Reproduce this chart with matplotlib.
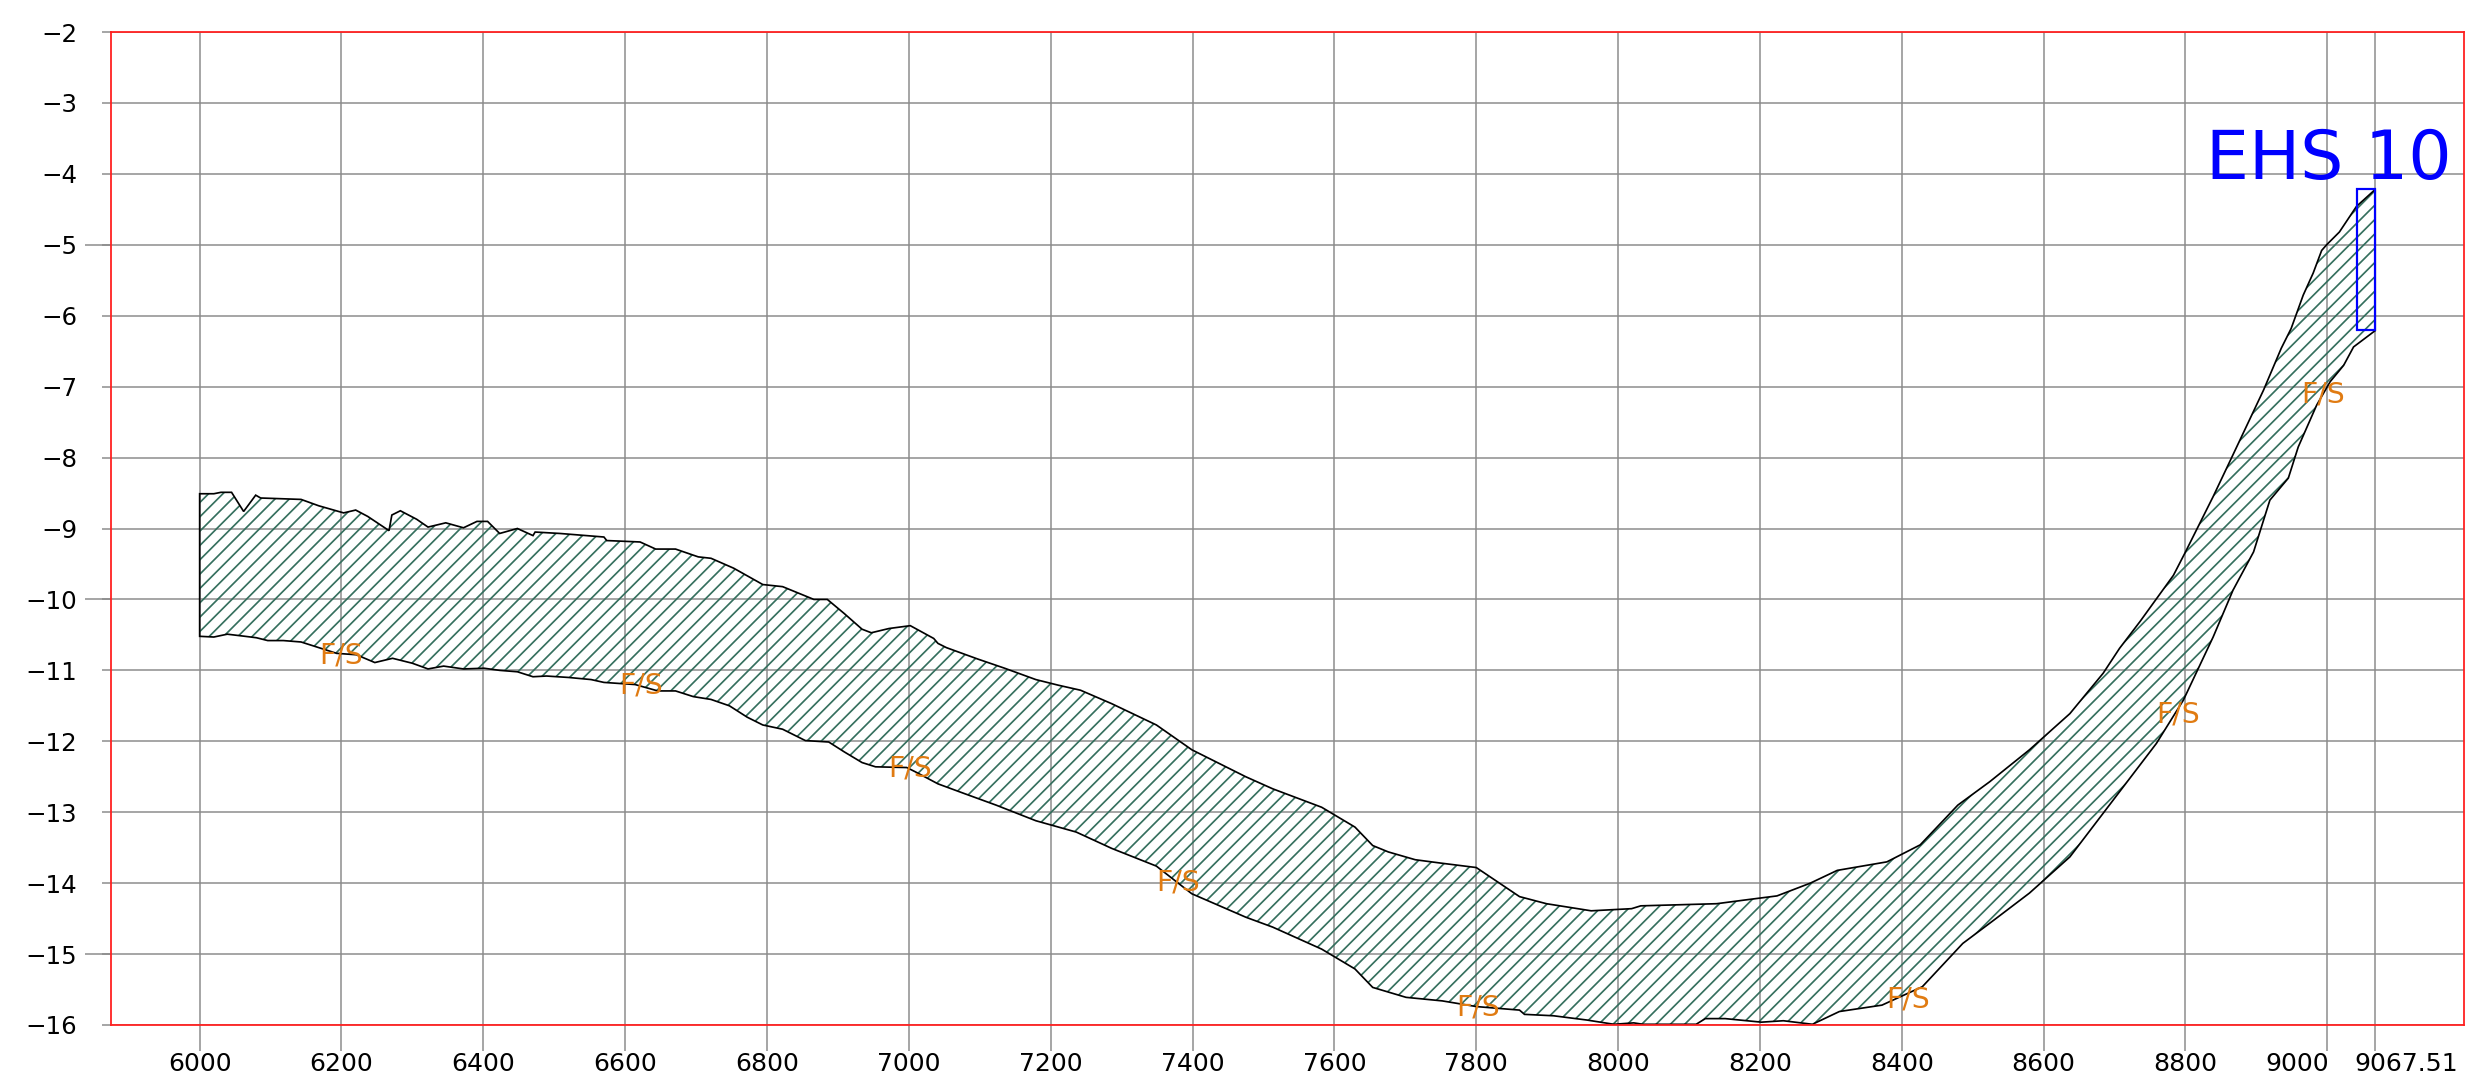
import matplotlib
matplotlib.use("Agg")
import matplotlib.pyplot as plt
from matplotlib.patches import Polygon, Rectangle
from matplotlib.transforms import offset_copy
import numpy as np

# ---------------- data ----------------
upper_x = [6000, 6020, 6030, 6045, 6062, 6079, 6086, 6143, 6168, 6203, 6220, 6237, 6267, 6271,
           6283, 6306, 6322, 6347, 6372, 6391, 6406, 6423, 6448, 6470, 6473, 6508, 6570, 6574,
           6621, 6643, 6671, 6703, 6721, 6753, 6794, 6822, 6866, 6885, 6909, 6934, 6947, 6972,
           7002, 7035, 7041, 7053, 7097, 7135, 7179, 7211, 7242, 7286, 7349, 7399, 7475, 7513,
           7582, 7629, 7654, 7676, 7714, 7752, 7800, 7861, 7899, 7962, 8019, 8032, 8139, 8177,
           8224, 8271, 8309, 8379, 8426, 8479, 8524, 8580, 8637, 8684, 8707, 8736, 8783, 8799,
           8839, 8867, 8910, 8935, 8949, 8966, 8980, 8992, 8999, 9017, 9041, 9067.51]
upper_y = [-8.51, -8.51, -8.49, -8.49, -8.76, -8.53, -8.57, -8.59, -8.68, -8.78, -8.74, -8.83,
           -9.03, -8.81, -8.75, -8.87, -8.98, -8.92, -8.99, -8.90, -8.90, -9.07, -9.00, -9.10,
           -9.05, -9.07, -9.12, -9.17, -9.19, -9.29, -9.29, -9.40, -9.42, -9.56, -9.79, -9.82,
           -10.00, -10.00, -10.20, -10.42, -10.47, -10.41, -10.37, -10.55, -10.62, -10.68,
           -10.84, -10.97, -11.13, -11.21, -11.28, -11.47, -11.77, -12.12, -12.50, -12.67,
           -12.93, -13.21, -13.47, -13.56, -13.67, -13.72, -13.78, -14.19, -14.29, -14.39,
           -14.36, -14.32, -14.29, -14.24, -14.18, -14.00, -13.82, -13.70, -13.46, -12.90,
           -12.57, -12.12, -11.61, -11.04, -10.69, -10.31, -9.66, -9.35, -8.55, -7.96, -7.05,
           -6.46, -6.18, -5.71, -5.40, -5.08, -5.00, -4.82, -4.46, -4.22]

lower_x = [6000, 6020, 6039, 6064, 6080, 6096, 6118, 6143, 6165, 6193, 6221, 6247, 6272, 6300,
           6322, 6344, 6372, 6401, 6423, 6448, 6470, 6489, 6520, 6552, 6570, 6614, 6646, 6671,
           6696, 6721, 6747, 6772, 6794, 6822, 6854, 6887, 6909, 6934, 6953, 6997, 7009, 7041,
           7079, 7123, 7179, 7236, 7286, 7349, 7399, 7475, 7513, 7582, 7629, 7654, 7701, 7752,
           7800, 7861, 7868, 7909, 7956, 7994, 8022, 8035, 8110, 8123, 8151, 8202, 8233, 8274,
           8312, 8372, 8429, 8486, 8530, 8580, 8637, 8698, 8759, 8797, 8839, 8867, 8896, 8919,
           8945, 8959, 8985, 9004, 9023, 9037, 9067.51]
lower_y = [-10.52, -10.53, -10.49, -10.52, -10.54, -10.58, -10.58, -10.60, -10.67, -10.76,
           -10.78, -10.89, -10.83, -10.90, -10.98, -10.94, -10.98, -10.97, -11.00, -11.02,
           -11.09, -11.08, -11.10, -11.13, -11.17, -11.20, -11.29, -11.29, -11.37, -11.41,
           -11.50, -11.66, -11.77, -11.83, -11.99, -12.01, -12.15, -12.30, -12.36, -12.37,
           -12.43, -12.60, -12.74, -12.90, -13.12, -13.28, -13.51, -13.76, -14.15, -14.48,
           -14.62, -14.93, -15.21, -15.47, -15.61, -15.66, -15.74, -15.79, -15.85, -15.87,
           -15.93, -15.99, -15.97, -15.99, -15.99, -15.91, -15.91, -15.96, -15.94, -15.99,
           -15.81, -15.72, -15.46, -14.85, -14.52, -14.14, -13.63, -12.83, -12.03, -11.42,
           -10.53, -9.87, -9.33, -8.60, -8.29, -7.85, -7.26, -6.93, -6.70, -6.44, -6.21]

fs_x = [6200, 6623, 7002, 7379, 7803, 8409, 8789, 8994]
fs_y = [-10.91, -11.32, -12.49, -14.11, -15.87, -15.76, -11.74, -7.22]
fs_label = "F/S"

ehs_label = "EHS 10"
ehs_label_pos = (8829, -4.07)
ehs_box_x = [9042, 9067.51]
ehs_box_y = [-6.20, -4.21]

xticks = [6000, 6200, 6400, 6600, 6800, 7000, 7200, 7400, 7600, 7800, 8000, 8200, 8400,
          8600, 8800, 9000, 9067.51]
xtick_labels = ["6000", "6200", "6400", "6600", "6800", "7000", "7200", "7400", "7600",
                "7800", "8000", "8200", "8400", "8600", "8800", "9000", "9067.51"]
yticks = [-16, -15, -14, -13, -12, -11, -10, -9, -8, -7, -6, -5, -4, -3, -2]
ytick_labels = ["\u2212" + str(abs(v)) for v in yticks]
ymajor_long = [-15, -10, -5]

# ---------------- figure ----------------
DPI = 86
PT = 72.0 / DPI  # points per pixel
W, H = 2469, 1083
plt.rcParams["hatch.linewidth"] = 1.7 * PT
plt.rcParams["font.family"] = ["DejaVu Sans"]

fig = plt.figure(figsize=(W / DPI, H / DPI), dpi=DPI)
left, right, top, bottom = 111, 2463.5, 32, 1025
ax = fig.add_axes([left / W, 1 - bottom / H, (right - left) / W, (bottom - top) / H])
ax.set_xlim(5875, 9192)
ax.set_ylim(-16, -2)

GRID = "#8a8a8a"
ax.set_xticks(xticks, xtick_labels)
ax.set_yticks(yticks, ytick_labels)
ax.set_yticks(ymajor_long, minor=True)
ax.yaxis.remove_overlapping_locs = False
ax.tick_params(axis="x", which="major", length=26 * PT, width=1.5 * PT, color=GRID,
               pad=1 * PT, labelsize=21, labelcolor="black")
ax.tick_params(axis="y", which="major", length=9 * PT, width=1.5 * PT, color=GRID,
               pad=25 * PT, labelsize=20.5, labelcolor="black")
ax.tick_params(axis="y", which="minor", length=26 * PT, width=1.5 * PT, color=GRID,
               labelleft=False)
ax.grid(True, which="major", color=GRID, linewidth=1.5 * PT)
ax.set_axisbelow(True)
for sp in ax.spines.values():
    sp.set_color("#ff2020")
    sp.set_linewidth(1.8 * PT)
    sp.set_zorder(5)

# shift the two crowded last labels apart (as in the reference)
xt = ax.xaxis.get_major_ticks()
lab_9000 = xt[-2].label1
lab_9000.set_transform(offset_copy(lab_9000.get_transform(), fig=fig, x=-30, y=0, units="dots"))
lab_end = xt[-1].label1
lab_end.set_transform(offset_copy(lab_end.get_transform(), fig=fig, x=31, y=0, units="dots"))

verts = np.column_stack([np.concatenate([upper_x, lower_x[::-1]]),
                         np.concatenate([upper_y, lower_y[::-1]])])
hatch_poly = Polygon(verts, closed=True, facecolor="none", edgecolor="#356f5e",
                     linewidth=0, hatch="//", zorder=2)
ax.add_patch(hatch_poly)
outline = Polygon(verts, closed=True, fill=False, edgecolor="black",
                  linewidth=1.7 * PT, zorder=3)
ax.add_patch(outline)

ax.add_patch(Rectangle((ehs_box_x[0], ehs_box_y[0]), ehs_box_x[1] - ehs_box_x[0],
                       ehs_box_y[1] - ehs_box_y[0], fill=False, edgecolor="#0000ff",
                       linewidth=2.2 * PT, zorder=4))
ax.text(ehs_label_pos[0], ehs_label_pos[1], ehs_label, color="#0000ff", fontsize=57,
        ha="left", va="baseline", zorder=6)

for x, y in zip(fs_x, fs_y):
    ax.text(x, y, fs_label, color="#e07b12", fontsize=23.8, ha="center", va="baseline",
            zorder=6)

fig.savefig("out.png", dpi=DPI)
